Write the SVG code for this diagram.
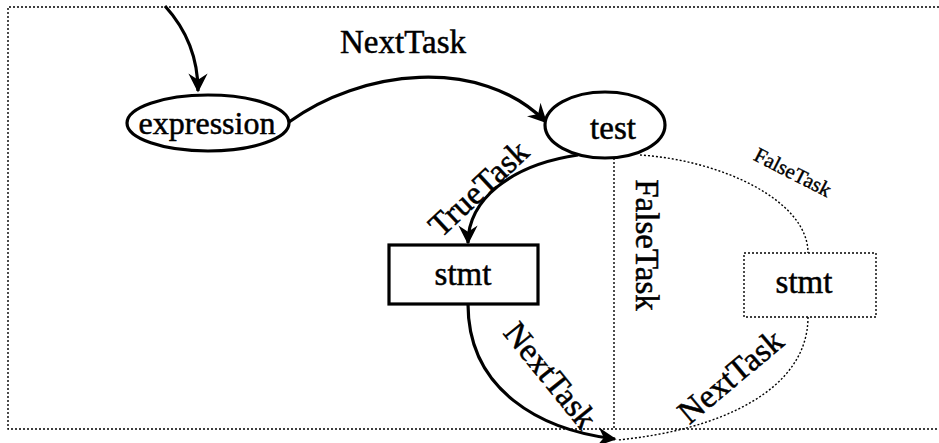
<svg xmlns="http://www.w3.org/2000/svg" width="939" height="443" viewBox="0 0 939 443">
  <style>
    .lbl { font-family: "Liberation Serif", "Times New Roman", serif; font-size: 33px; fill: #000; stroke: #000; stroke-width: 0.5; text-anchor: middle; }
    .small { font-size: 21px; stroke-width: 0.4; }
    .solid { fill: none; stroke: #000; stroke-width: 3.2; }
    .dot { fill: none; stroke: #000; stroke-width: 1.4; stroke-dasharray: 2 2; }
    .node { fill: #fff; stroke: #000; stroke-width: 3.2; }
    .dnode { fill: #fff; stroke: #000; stroke-width: 1.4; stroke-dasharray: 2 2; }
  </style>
  <defs>
    <marker id="arrow" viewBox="0 0 12 12" refX="11" refY="6" markerWidth="6" markerHeight="6" orient="auto" markerUnits="strokeWidth">
      <path d="M0,0 L12,6 L0,12 L4,6 z" fill="#000"/>
    </marker>
  </defs>
  <rect width="939" height="443" fill="#fff"/>

  <!-- outer frame, open on the right -->
  <path class="dot" d="M939,7 H8 V429 H939"/>

  <g id="connectors">
    <path class="solid" d="M165,6 C185,28 198,55 198,91" marker-end="url(#arrow)"/>
    <path class="solid" d="M289,122 C360,70 480,55 546,122" marker-end="url(#arrow)"/>
    <path class="solid" d="M578,155 C510,165 468,200 468,243" marker-end="url(#arrow)"/>
    <path class="solid" d="M468,304 C468,390 540,430 615,439" marker-end="url(#arrow)"/>
    <path class="dot" d="M614,158 V429"/>
    <path class="dot" d="M640,155 C720,160 808,200 808,253"/>
    <path class="dot" d="M808,317 C808,390 720,430 618,440"/>
  </g>

  <g id="expression">
    <ellipse class="node" cx="208" cy="123" rx="81" ry="28"/>
    <text class="lbl" x="207" y="134" style="font-size:32px">expression</text>
  </g>

  <g id="test">
    <ellipse class="node" cx="605" cy="125" rx="60" ry="33"/>
    <text class="lbl" x="613" y="139">test</text>
  </g>

  <g id="stmt-true">
    <rect class="node" x="389" y="245" width="149" height="59"/>
    <text class="lbl" x="463" y="285">stmt</text>
  </g>

  <g id="stmt-false">
    <rect class="dnode" x="744" y="253" width="132" height="64"/>
    <text class="lbl" x="804" y="293">stmt</text>
  </g>

  <g id="labels">
    <text class="lbl" x="403" y="53">NextTask</text>
    <text class="lbl" dy="0.35em" transform="translate(478,188) rotate(-43)">TrueTask</text>
    <text class="lbl" dy="0.35em" transform="translate(648,245) rotate(90)">FalseTask</text>
    <text class="lbl small" dy="0.35em" transform="translate(793,172) rotate(27)">FalseTask</text>
    <text class="lbl" dy="0.35em" transform="translate(551,375) rotate(51)">NextTask</text>
    <text class="lbl" dy="0.35em" transform="translate(730,376) rotate(-40)">NextTask</text>
  </g>
</svg>
